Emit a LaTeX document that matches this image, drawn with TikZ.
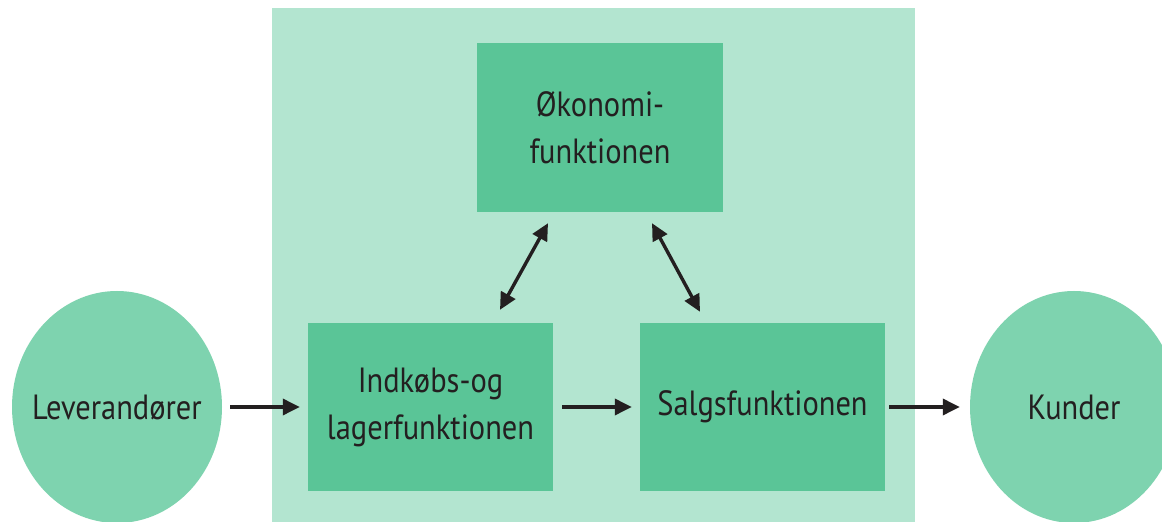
\documentclass[tikz,border=0pt]{standalone}
\usepackage{fontspec}
\setmainfont[FakeStretch=0.87]{PT Sans}
\usetikzlibrary{arrows.meta,shapes.geometric}
\definecolor{bgpanel}{HTML}{B3E5D0}
\definecolor{boxfill}{HTML}{5AC597}
\definecolor{ellfill}{HTML}{7ED3AF}
\definecolor{ink}{HTML}{231F20}
\begin{document}
\begin{tikzpicture}[x=1pt,y=1pt,
  txt/.style={font=\fontsize{35}{47}\selectfont, text=ink, align=center},
  funcbox/.style={txt, fill=boxfill, draw=none, minimum width=245pt, minimum height=168pt, inner sep=0pt},
  party/.style={ellipse, fill=ellfill, draw=none, minimum width=210pt, minimum height=232pt, inner sep=0pt},
  partylabel/.style={label={[txt]center:#1}},
  arr/.style={draw=ink, line width=3.4pt, -{Triangle[length=17pt,width=16pt]}},
  darr/.style={draw=ink, line width=3.4pt, {Triangle[length=17pt,width=16pt]}-{Triangle[length=17pt,width=16pt]}}
]
\useasboundingbox (0,0) rectangle (1162,522);
\fill[white] (0,0) rectangle (1162,522);
\clip (0,0) rectangle (1162,522);
\fill[bgpanel] (272,0) rectangle (915,514);
\node[funcbox, minimum width=246pt, minimum height=169pt] (oko) at (600,394.5) {Økonomi-\\funktionen};
\node[funcbox] (ind) at (430.5,115) {Indkøbs-og\\lagerfunktionen};
\node[funcbox] (sal) at (762.5,115) {Salgsfunktionen};
\node[party, partylabel={Leverandører}] (lev) at (117,115) {};
\node[party, minimum width=208pt, partylabel={Kunder}] (kun) at (1074,115) {};
\draw[arr] ([xshift=8pt]lev.east) -- ([xshift=-8pt]ind.west);
\draw[arr] ([xshift=9pt]ind.east) -- ([xshift=-8pt]sal.west);
\draw[arr] ([xshift=4pt]sal.east) -- ([xshift=-10pt]kun.west);
\draw[darr] ([xshift=69.5pt,yshift=13pt]ind.north) -- ([xshift=-52pt,yshift=-11pt]oko.south);
\draw[darr] ([xshift=-62.5pt,yshift=11pt]sal.north) -- ([xshift=52pt,yshift=-11pt]oko.south);
\end{tikzpicture}
\end{document}
